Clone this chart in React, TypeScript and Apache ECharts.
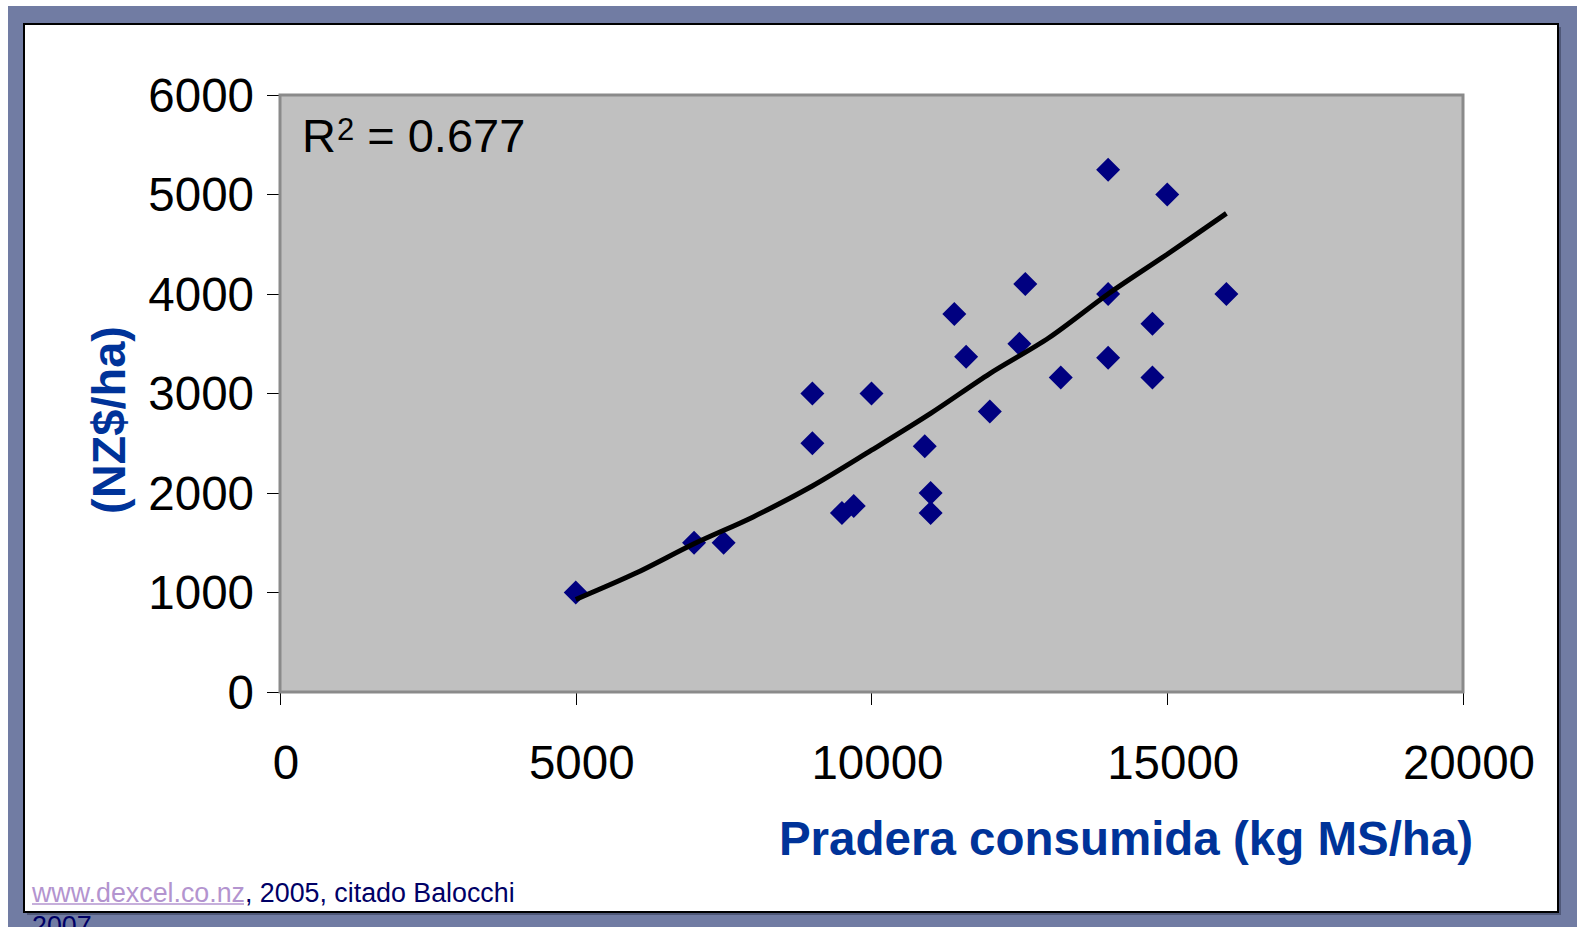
import React, { useEffect, useRef } from "react";
import * as echarts from "echarts";

// Scatter data: pasture consumed (kg MS/ha) vs. profit (NZ$/ha)
const pastureX = [5000, 7000, 7500, 9000, 9000, 9500, 9700, 10000, 10900, 11000, 11000, 11400, 11600, 12000, 12500, 12600, 13200, 14000, 14000, 14000, 14750, 14750, 15000, 16000];
const profitY = [1000, 1500, 1500, 3000, 2500, 1800, 1870, 3000, 2470, 2000, 1800, 3800, 3370, 2820, 3500, 4100, 3160, 3360, 4000, 5250, 3700, 3160, 5000, 4000];

// Trend line
const trendX = [5000, 6000, 7000, 8000, 9000, 10000, 11000, 12000, 13000, 14000, 15000, 16000];
const trendY = [930, 1190, 1490, 1760, 2070, 2430, 2800, 3200, 3560, 4000, 4400, 4810];

const xTicks = [0, 5000, 10000, 15000, 20000];
const yTicks = [0, 1000, 2000, 3000, 4000, 5000, 6000];

const xTitle = "Pradera consumida (kg MS/ha)";
const yTitle = "(NZ$/ha)";
const r2Label = "0.677";
const sourceLink = "www.dexcel.co.nz";
const sourceRest = ", 2005, citado Balocchi";
const sourceYear = "2007";

const FONT = "'Liberation Sans', Arial, Helvetica, sans-serif";

export default function App() {
  const ref = useRef<HTMLDivElement>(null);

  useEffect(() => {
    if (!ref.current) return;
    const chart = echarts.init(ref.current, null, { renderer: "svg" });

    const scatterData = pastureX.map((x, i) => [x, profitY[i]]);
    const trendData = trendX.map((x, i) => [x, trendY[i]]);

    chart.setOption({
      animation: false,
      backgroundColor: "#ffffff",
      textStyle: { fontFamily: FONT },
      grid: {
        left: 280,
        top: 95,
        right: 114,
        bottom: 235,
        show: true,
        backgroundColor: "#c0c0c0",
        borderColor: "#8a8a8a",
        borderWidth: 3,
        z: 1,
      },
      xAxis: {
        type: "value",
        min: xTicks[0],
        max: xTicks[xTicks.length - 1],
        interval: xTicks[1] - xTicks[0],
        axisLine: { show: true, lineStyle: { color: "#333", width: 2 } },
        axisTick: { show: true, inside: false, length: 13, lineStyle: { color: "#000", width: 1 } },
        axisLabel: {
          fontSize: 47.5,
          color: "#000",
          margin: 46,
          padding: [0, 0, 0, 12],
          fontFamily: FONT,
          formatter: (v: number) => String(v),
        },
        splitLine: { show: false },
      },
      yAxis: {
        type: "value",
        min: yTicks[0],
        max: yTicks[yTicks.length - 1],
        interval: yTicks[1] - yTicks[0],
        axisLine: { show: true, lineStyle: { color: "#333", width: 2 } },
        axisTick: { show: true, inside: false, length: 13, lineStyle: { color: "#000", width: 1 } },
        axisLabel: {
          fontSize: 47.5,
          color: "#000",
          margin: 26,
          padding: [6, 0, 0, 0],
          fontFamily: FONT,
          formatter: (v: number) => String(v),
        },
        splitLine: { show: true, lineStyle: { color: "#111", width: 1 } },
      },
      series: [
        {
          type: "scatter",
          data: scatterData,
          symbol: "diamond",
          symbolSize: 24,
          itemStyle: { color: "#000080", opacity: 1 },
          z: 3,
        },
        {
          type: "line",
          data: trendData,
          showSymbol: false,
          symbol: "none",
          smooth: 0.3,
          lineStyle: { color: "#000", width: 5 },
          z: 4,
        },
      ],
      graphic: [
        {
          type: "rect",
          z: -10,
          silent: true,
          shape: { x: 8, y: 6, width: 1569, height: 921 },
          style: { fill: "#717ca3" },
        },
        {
          type: "rect",
          z: -9,
          silent: true,
          shape: { x: 27, y: 27, width: 1534, height: 888 },
          style: { fill: "#4f5878" },
        },
        {
          type: "rect",
          z: -8,
          silent: true,
          shape: { x: 24, y: 24, width: 1534, height: 888 },
          style: { fill: "#ffffff", stroke: "#000", lineWidth: 2 },
        },
        {
          type: "text",
          z: 10,
          silent: true,
          x: 108,
          y: 420,
          rotation: Math.PI / 2,
          style: {
            text: yTitle,
            fontSize: 47,
            fontWeight: "bold",
            fontFamily: FONT,
            fill: "#003399",
            textAlign: "center",
            textVerticalAlign: "middle",
          },
        },
        {
          type: "text",
          z: 10,
          silent: true,
          x: 1126,
          y: 838,
          style: {
            text: xTitle,
            fontSize: 47.5,
            fontWeight: "bold",
            fontFamily: FONT,
            fill: "#003399",
            textAlign: "center",
            textVerticalAlign: "middle",
          },
        },
        {
          type: "text",
          z: 10,
          silent: true,
          x: 302,
          y: 134,
          style: {
            text: "{r|R}{s|2}{r| = " + r2Label + "}",
            fontFamily: FONT,
            textAlign: "left",
            textVerticalAlign: "middle",
            rich: {
              r: { fontSize: 47, fill: "#000", fontFamily: FONT, lineHeight: 50, verticalAlign: "bottom" },
              s: { fontSize: 31, fill: "#000", fontFamily: FONT, lineHeight: 50, verticalAlign: "top", padding: [5, 0, 0, 1] },
            },
          },
        },
        {
          type: "text",
          z: 10,
          silent: true,
          x: 32,
          y: 876,
          style: {
            text: "{a|" + sourceLink + "}{b|" + sourceRest + "}\n{b|" + sourceYear + "}",
            fontFamily: FONT,
            textAlign: "left",
            textVerticalAlign: "top",
            rich: {
              a: { fontSize: 26.8, fill: "#b394cf", fontFamily: FONT, lineHeight: 33 },
              b: { fontSize: 26.8, fill: "#000066", fontFamily: FONT, lineHeight: 33 },
            },
          },
        },
        {
          type: "line",
          z: 10,
          silent: true,
          shape: { x1: 32, y1: 904, x2: 244, y2: 904 },
          style: { stroke: "#b394cf", lineWidth: 1.5 },
        },
      ],
    });

    return () => chart.dispose();
  }, []);

  return (
    <div
      ref={ref}
      style={{ position: "absolute", left: 0, top: 0, width: 1577, height: 927 }}
    />
  );
}
